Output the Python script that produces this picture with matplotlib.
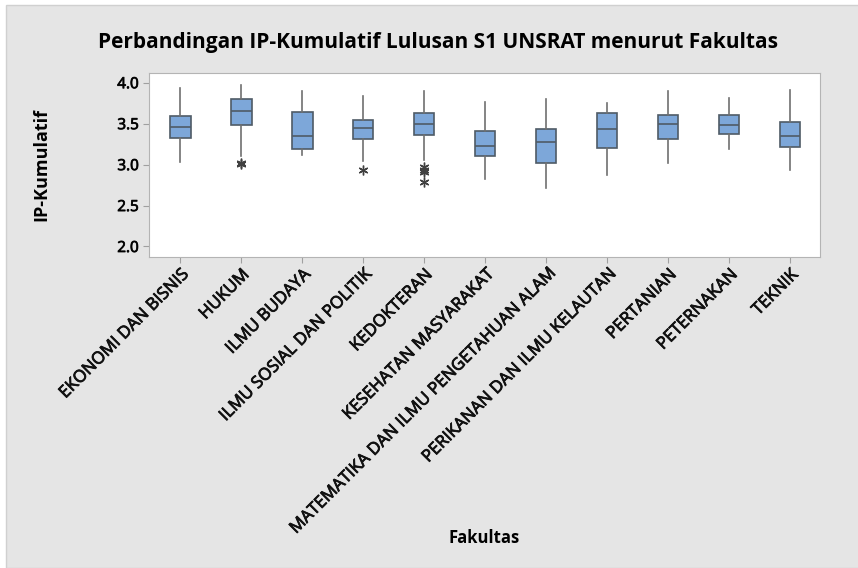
import matplotlib.pyplot as plt
import matplotlib.patheffects as pe
from matplotlib.patches import Rectangle

# data (five-number summary per faculty + outliers)
fakultas = ["EKONOMI DAN BISNIS", "HUKUM", "ILMU BUDAYA", "ILMU SOSIAL DAN POLITIK",
            "KEDOKTERAN", "KESEHATAN MASYARAKAT", "MATEMATIKA DAN ILMU PENGETAHUAN ALAM",
            "PERIKANAN DAN ILMU KELAUTAN", "PERTANIAN", "PETERNAKAN", "TEKNIK"]
whisker_low = [3.03, 3.10, 3.12, 3.04, 3.05, 2.83, 2.72, 2.87, 3.02, 3.19, 2.93]
q1 = [3.32, 3.48, 3.19, 3.31, 3.36, 3.10, 3.02, 3.20, 3.31, 3.37, 3.22]
median = [3.46, 3.65, 3.35, 3.45, 3.49, 3.23, 3.27, 3.44, 3.50, 3.48, 3.35]
q3 = [3.59, 3.80, 3.64, 3.55, 3.63, 3.41, 3.44, 3.63, 3.60, 3.61, 3.52]
whisker_high = [3.94, 3.97, 3.90, 3.84, 3.90, 3.77, 3.80, 3.75, 3.90, 3.81, 3.91]
outliers = [[], [3.01, 3.02], [], [2.93], [2.97, 2.94, 2.91, 2.79], [], [], [], [], [], []]

plt.rcParams['font.family'] = ['Open Sans', 'DejaVu Sans']

stats = []
for i in range(len(fakultas)):
    stats.append({"label": fakultas[i], "whislo": whisker_low[i], "q1": q1[i],
                  "med": median[i], "q3": q3[i], "whishi": whisker_high[i],
                  "fliers": outliers[i]})

fig = plt.figure(figsize=(8.58, 5.68), dpi=100)
fig.patch.set_facecolor("white")
fig.patches.append(Rectangle((6/858, 0), 1, 1 - 5/568, transform=fig.transFigure,
                             facecolor="#e5e5e5", edgecolor="#d0d0d0", lw=1, zorder=-10))

ax = fig.add_axes([0.1737, 0.548, 0.7820, 0.323])
ax.bxp(stats, positions=range(len(fakultas)), widths=0.34, patch_artist=True,
       showcaps=False,
       boxprops=dict(facecolor="#7da7d9", edgecolor="#4f5b66", linewidth=1.2),
       medianprops=dict(color="#4f5b66", linewidth=1.2),
       whiskerprops=dict(color="#707070", linewidth=1.2),
       flierprops=dict(marker=(6, 2, 0), markersize=7, markeredgecolor="#404040",
                       markeredgewidth=1.0, linestyle="none"))

ax.set_xlim(-0.51, 10.49)
ax.set_ylim(1.875, 4.115)
ax.set_yticks([2.0, 2.5, 3.0, 3.5, 4.0])
ax.set_yticklabels(["2.0", "2.5", "3.0", "3.5", "4.0"], fontsize=11)
ax.set_xticks(range(len(fakultas)))
ax.set_xticklabels(fakultas, rotation=45, ha="right", rotation_mode="anchor",
                   fontsize=12.2, color="#111111")
semibold = [pe.withStroke(linewidth=0.6, foreground="#111111")]
for lbl in ax.get_xticklabels() + ax.get_yticklabels():
    lbl.set_path_effects(semibold)
for s in ax.spines.values():
    s.set_color("#b4b4b4")
ax.tick_params(color="#a0a0a0", length=4, direction="out")
ax.set_facecolor("white")

fig.text(0.51, 0.926, "Perbandingan IP-Kumulatif Lulusan S1 UNSRAT menurut Fakultas",
         ha="center", va="center", fontsize=15, fontweight="bold")
fig.text(0.048, 0.71, "IP-Kumulatif", rotation=90, ha="center", va="center",
         fontsize=13, fontweight="bold")
fig.text(0.564, 0.053, "Fakultas", ha="center", va="center", fontsize=12, fontweight="bold")

fig.savefig("out.png", dpi=100)
